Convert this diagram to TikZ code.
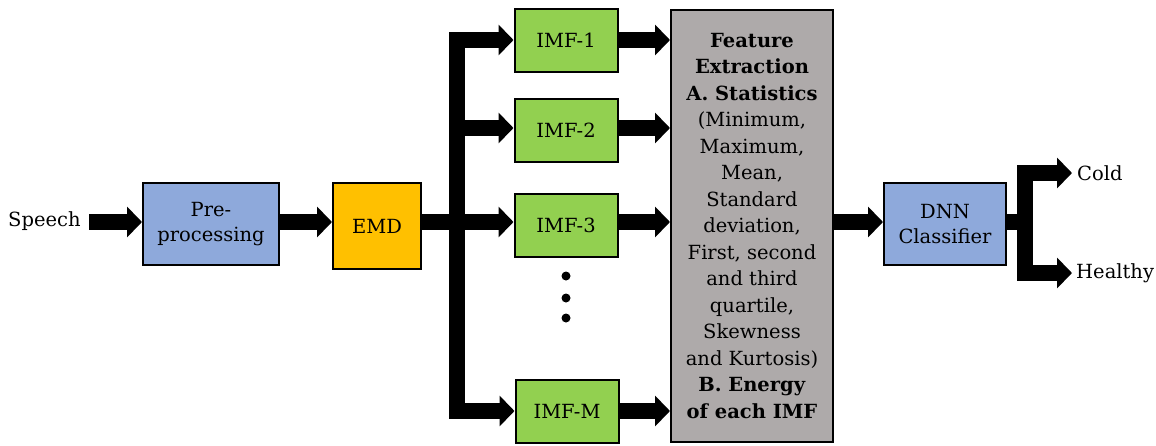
\documentclass[tikz,border=0pt]{standalone}
\usepackage{fontspec}
\setmainfont{DejaVu Serif}
\usetikzlibrary{arrows.meta}
\definecolor{pblue}{HTML}{8EA9DB}
\definecolor{porange}{HTML}{FFC000}
\definecolor{pgreen}{HTML}{92D050}
\definecolor{pgray}{HTML}{AEAAAA}
\tikzset{
  blk/.style={draw=black, line width=2pt, inner sep=0pt, align=center,
    font=\fontsize{19.5}{25}\selectfont},
  imf/.style={blk, fill=pgreen, minimum width=103pt, minimum height=63pt},
  fat/.style={line width=16pt, line join=miter, -{Triangle[width=30pt,length=15pt]}},
  fatline/.style={line width=16pt, line join=miter},
  lbl/.style={inner sep=0pt, font=\fontsize{19.5}{25}\selectfont},
}
\begin{document}
\begin{tikzpicture}[x=1pt,y=-1pt]
\useasboundingbox (0,0) rectangle (1156,445);
% nodes
\node[lbl, anchor=west] (speech) at (8,221) {Speech};
\coordinate (sp) at (89,222);
\node[blk, fill=pblue, minimum width=136pt, minimum height=82pt] (pre) at (211,224) {Pre-\\processing};
\node[blk, fill=porange, minimum width=88pt, minimum height=86pt] (emd) at (377,226) {EMD};
\node[imf] (i1) at (566,40) {IMF-1};
\node[imf] (i2) at (566,130) {IMF-2};
\node[imf] (i3) at (566,225) {IMF-3};
\node[imf] (im) at (567,411) {IMF-M};
\foreach \yy [count=\k] in {276,298,318} \fill (566,\yy) circle (4.5pt) coordinate (dot\k);
\node[blk, fill=pgray, minimum width=162pt, minimum height=432pt,
  font=\fontsize{19.5}{26.5}\selectfont] (fe) at (752,226)
  {\textbf{Feature}\\ \textbf{Extraction}\\ \textbf{A. Statistics}\\ (Minimum,\\ Maximum,\\ Mean,\\ Standard\\ deviation,\\ First, second\\ and third\\ quartile,\\ Skewness\\ and Kurtosis)\\ \textbf{B. Energy}\\ \textbf{of each IMF}};
\node[blk, fill=pblue, minimum width=122pt, minimum height=82pt] (dnn) at (945,224) {DNN\\Classifier};
\node[lbl, anchor=west] (cold) at (1077,173) {Cold};
\node[lbl, anchor=west] (healthy) at (1076,273) {Healthy};
\coordinate (bus) at (457,222);
\coordinate (obus) at (1025,222);
% connectors
\draw[fat] (sp) -- (pre.west |- sp);
\draw[fat] (pre.east |- sp) -- (emd.west |- sp);
\draw[fatline] (emd.east |- sp) -- (bus);
\draw[fat] (bus) |- (i1.west |- 0,40);
\draw[fat] (bus) |- (i2.west |- 0,128);
\draw[fat] (bus) -- (i3.west |- bus);
\draw[fat] (bus) |- (im.west |- 0,411);
\draw[fat] (i1.east |- 0,40) -- (fe.west |- 0,40);
\draw[fat] (i2.east |- 0,128) -- (fe.west |- 0,128);
\draw[fat] (i3.east |- bus) -- (fe.west |- bus);
\draw[fat] (im.east |- 0,411) -- (fe.west |- 0,411);
\draw[fat] (fe.east |- bus) -- (dnn.west |- bus);
\draw[fatline] (dnn.east |- obus) -- (obus);
\draw[fat] (obus) |- ([xshift=-5pt]cold.west);
\draw[fat] (obus) |- ([xshift=-4pt]healthy.west);
\end{tikzpicture}
\end{document}
